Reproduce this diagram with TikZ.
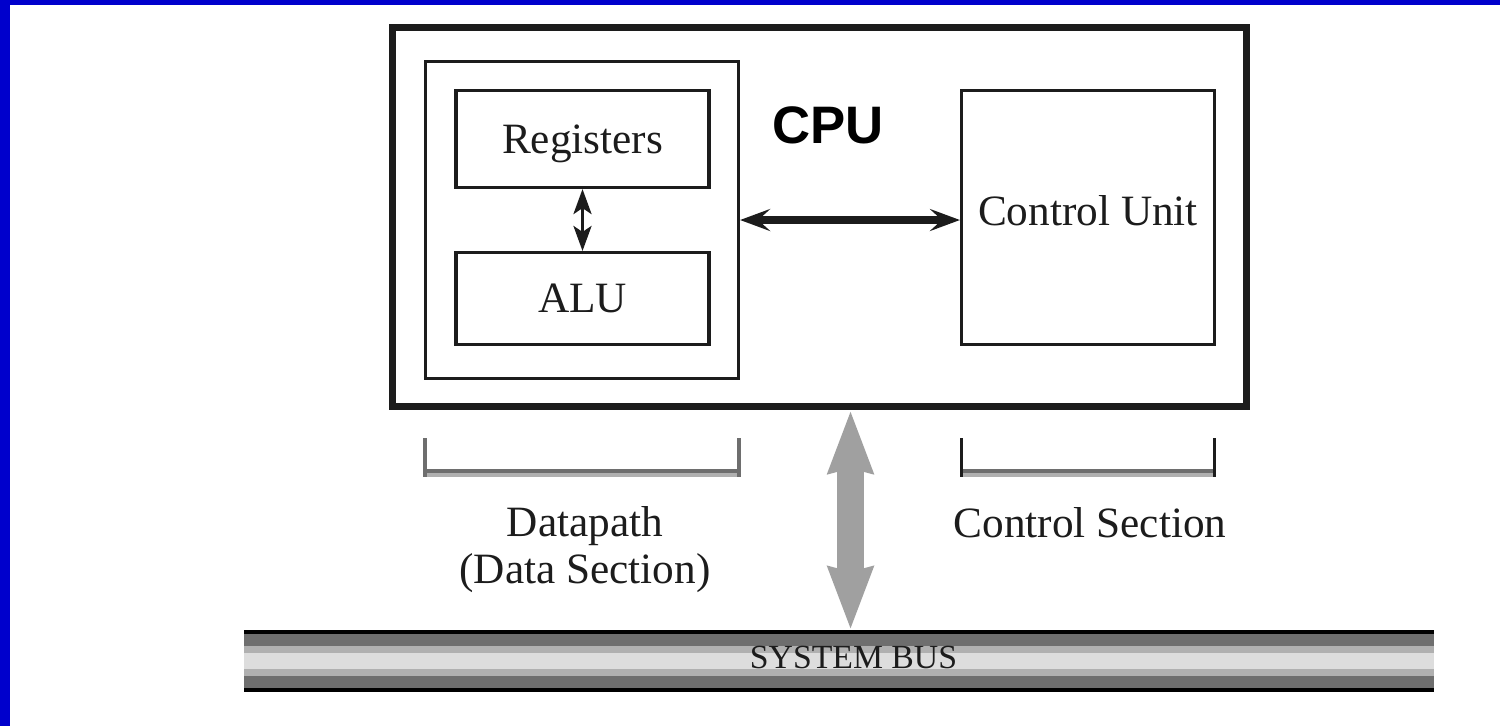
\documentclass[tikz,border=0pt]{standalone}
\usepackage{fontspec}
\setmainfont{Liberation Serif}
\newfontfamily\cpufont{Liberation Sans}
\usetikzlibrary{arrows.meta,positioning}
\definecolor{ink}{HTML}{1C1C1C}
\definecolor{frameblue}{HTML}{0000CC}
\definecolor{arrowgray}{HTML}{A0A0A0}
\definecolor{busdark}{HTML}{6E6E6E}
\definecolor{busmid}{HTML}{B0B0B0}
\definecolor{buslight}{HTML}{DDDDDD}
\tikzset{
  unitbox/.style={draw=ink, line width=1pt, minimum width=2.53cm, text depth=0pt, text=ink,
    font=\fontsize{12.3}{13.1}\selectfont},
  boxtext/.style={text=ink, font=\fontsize{12.3}{13.1}\selectfont},
  seclabel/.style={text=ink, align=center, font=\fontsize{12.3}{13.1}\selectfont},
  regarrow/.style={draw=ink, line width=0.9pt,
    {Stealth[length=0.25cm,width=0.18cm,inset=0.06cm]}-{Stealth[length=0.25cm,width=0.18cm,inset=0.06cm]}},
  linkarrow/.style={draw=ink, line width=0.08cm,
    {Stealth[length=0.3cm,width=0.22cm,inset=0.12cm]}-{Stealth[length=0.3cm,width=0.22cm,inset=0.12cm]}},
  busarrow/.style={draw=arrowgray, line width=0.27cm,
    {Stealth[length=0.62cm,width=0.43cm,inset=0.04cm]}-{Stealth[length=0.62cm,width=0.43cm,inset=0.04cm]}}
}
\begin{document}
\begin{tikzpicture}[x=0.01cm,y=-0.01cm]
	\useasboundingbox (0,0) rectangle (1500,726);
	\fill[white] (0,0) rectangle (1500,726);
	\fill[frameblue] (0,0) rectangle (10,726);
	\fill[frameblue] (0,0) rectangle (1500,5);
	
	% boxes
	\node[draw=ink, line width=2pt, minimum width=8.54cm, minimum height=3.79cm] (cpu) at (819.5,217) {};
	\node[draw=ink, line width=1pt, minimum width=3.125cm, minimum height=3.165cm] (dp) at (582,220) {};
	\node[unitbox, minimum height=0.965cm] (reg) at (582.5,139) {Registers};
	\node[unitbox, minimum height=0.915cm] (alu) at (582.5,298.5) {ALU};
	\node[unitbox, line width=0.85pt, minimum height=2.535cm] (cu) at (1088,217.5) {};
	\node[boxtext, anchor=base] (cutext) at ([yshift=-0.075cm]cu.center) {Control Unit};
	\node[anchor=base, font=\cpufont\bfseries\fontsize{15}{18}\selectfont] (cputext) at (828,143) {CPU};
	
	% system bus
	\node[fill=black, minimum width=11.9cm, minimum height=0.62cm, inner sep=0pt, outer sep=0pt] (bus) at (839,661) {};
	\fill[busdark] ([yshift=-0.04cm]bus.north west) rectangle ([yshift=0.04cm]bus.south east);
	\fill[busmid] ([yshift=-0.16cm]bus.north west) rectangle ([yshift=0.16cm]bus.south east);
	\fill[buslight] ([yshift=-0.23cm]bus.north west) rectangle ([yshift=0.23cm]bus.south east);
	\node[anchor=base, text=ink, font=\fontsize{9.6}{10}\selectfont] (bustext) at (853.5,668) {SYSTEM BUS};
	
	% brackets
	\draw[busdark, line width=0.04cm] (423,471) -- (741,471);
	\draw[busmid, line width=0.04cm] (423,475) -- (741,475);
	\draw[busdark, line width=0.04cm] (425,438) -- (425,477);
	\draw[busdark, line width=0.04cm] (739,438) -- (739,477);
	\draw[busdark, line width=0.04cm] (960,471) -- (1216,471);
	\draw[busmid, line width=0.04cm] (960,475) -- (1216,475);
	\draw[ink, line width=0.03cm] (961.5,438) -- (961.5,477);
	\draw[ink, line width=0.03cm] (1214.5,438) -- (1214.5,477);
	\node[seclabel, anchor=base] (dplabel) at (585,583) {Datapath\\(Data Section)};
	\node[seclabel, anchor=base] (cslabel) at (1090,537) {Control Section};
	
	% arrows
	\coordinate (bustap) at ([xshift=0.31cm]cpu.south);
	\draw[regarrow] (reg) -- (alu);
	\draw[linkarrow] (dp.east) -- (dp.east -| cu.west);
	\draw[busarrow] (bustap) -- (bustap |- bus.north);
\end{tikzpicture}
\end{document}
